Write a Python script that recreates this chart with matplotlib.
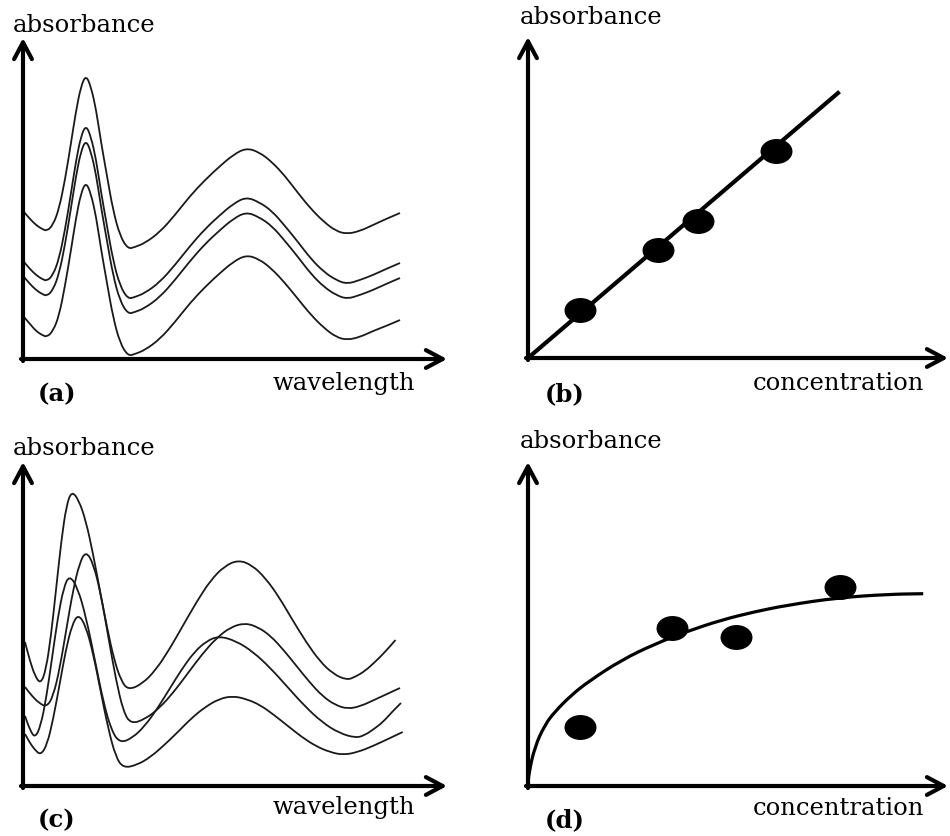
import matplotlib
matplotlib.use("Agg")
import matplotlib.pyplot as plt
import numpy as np
from matplotlib.path import Path
from matplotlib.patches import PathPatch

# ---- data (arbitrary units) ----
# (a) spectra, same wavelength grid for all four curves
wl_a = [1, 7, 13, 19, 24, 30, 36, 42, 48, 53, 58, 63, 68, 73, 78, 84, 90, 97, 105, 112,
        122, 137, 152, 167, 182, 197, 210, 223, 236, 249, 262, 275, 288, 301, 313, 324,
        337, 350, 363, 377]
abs_a1 = [147, 140, 134, 130, 128, 134, 150, 179, 216, 248, 273, 284, 272, 250, 217, 183,
          149, 123, 110, 112, 116, 127, 144, 163, 179, 193, 204, 211, 207, 197, 183, 166,
          150, 137, 128, 125, 128, 134, 140, 146]
abs_a2 = [97, 90, 84, 80, 78, 84, 100, 129, 166, 198, 223, 234, 222, 200, 167, 133, 99, 73,
          60, 62, 66, 77, 94, 113, 130, 144, 155, 162, 157, 148, 133, 117, 100, 87, 79, 75,
          79, 84, 90, 96]
abs_a3 = [82, 75, 69, 65, 63, 69, 85, 114, 151, 183, 208, 219, 207, 185, 152, 118, 84, 58,
          45, 47, 51, 62, 79, 98, 115, 129, 140, 147, 142, 133, 118, 102, 85, 72, 64, 60,
          64, 69, 75, 81]
abs_a4 = [42, 35, 28, 24, 22, 28, 43, 73, 109, 141, 166, 177, 165, 143, 110, 76, 42, 16, 3,
          5, 9, 20, 37, 56, 72, 86, 97, 104, 100, 90, 76, 60, 44, 31, 22, 19, 22, 28, 33, 39]

# (c) spectra with shifting peaks
wl_c1 = [2, 7, 12, 17.7, 22.9, 28, 33.2, 38.4, 43.5, 48.7, 55.8, 62.9, 69.9, 77, 84.1, 91.2,
         98.2, 105.3, 119.1, 132.8, 146.6, 160.3, 174.1, 187.8, 201.6, 215.3, 228.9, 242.4,
         256, 269.5, 283.1, 296.6, 310.2, 323.7, 332, 342, 352, 362, 372.5]
abs_c1 = [144, 125, 110, 102, 116, 150, 198, 246, 281, 295, 286, 265, 233, 195, 158, 126, 105,
          96, 102, 116, 137, 161, 185, 206, 220, 226, 221, 208, 189, 166, 144, 125, 112, 106,
          109, 115, 124, 134, 146]
wl_c2 = [2, 9, 16, 23.7, 30.3, 36.8, 43.4, 49.9, 56.5, 63, 70.5, 78, 85.5, 93, 100.5, 108,
         122.3, 136.5, 150.8, 165, 179.3, 193.5, 207.8, 222, 234.9, 247.8, 260.6, 273.5,
         286.4, 299.3, 312.1, 325, 338, 351, 364, 377]
abs_c2 = [99, 90, 83, 79, 90, 118, 157, 195, 223, 235, 222, 191, 148, 106, 74, 62, 67, 78, 94,
          113, 132, 148, 159, 163, 159, 150, 136, 120, 104, 90, 81, 77, 80, 86, 92, 98]
wl_c3 = [2, 7, 12, 17.7, 23.4, 29.2, 34.9, 40.6, 46.3, 54.8, 63.2, 71.7, 80.1, 88.6, 97, 109.4,
         121.8, 134.1, 146.5, 158.9, 171.3, 183.6, 196, 213.1, 230.3, 247.4, 264.5, 281.6,
         298.8, 315.9, 333, 342, 351, 360, 369, 378]
abs_c3 = [70, 56, 48, 60, 89, 129, 169, 198, 211, 198, 168, 127, 85, 55, 43, 48, 60, 77, 97,
          117, 134, 145, 150, 145, 134, 118, 99, 80, 64, 53, 48, 51, 57, 64, 74, 83]
wl_c4 = [2, 7, 12, 17.7, 24, 30.2, 36.5, 42.8, 49, 55.3, 62.8, 70.3, 77.8, 85.3, 92.8, 100.3,
         114, 127.6, 141.3, 154.9, 168.6, 182.2, 195.9, 209.5, 223.4, 237.2, 251.1, 264.9,
         278.8, 292.6, 306.5, 320.3, 335, 350, 365, 379.7]
abs_c4 = [52, 43, 36, 31, 41, 67, 101, 136, 161, 172, 160, 132, 94, 57, 29, 18, 21, 29, 41,
          54, 68, 79, 87, 90, 87, 81, 71, 60, 49, 40, 34, 31, 34, 40, 47, 54]

# (b) linear calibration
conc_b_line = [0, 310]
abs_b_line = [0, 265]
conc_b = [51.7, 130, 170, 247.7]
abs_b = [48.3, 107.6, 136.6, 206.6]

# (d) non-linear calibration
conc_d_line = [0, 0.8, 6.8, 16.8, 26.8, 43.5, 60.2, 93.5, 126.8, 160.2, 193.5, 226.8,
               260.2, 310.2, 360.2, 395.2]
abs_d_line = [0, 12.7, 39.3, 61, 74.3, 91, 104.3, 126, 142, 155, 166, 174.3, 181, 188.3,
              191.7, 192.3]
conc_d = [51.8, 143.5, 207.5, 311.8]
abs_d = [59.3, 158.3, 149.3, 198.7]

W, H = 950, 836
fig = plt.figure(figsize=(W / 100, H / 100), dpi=100)
SERIF = "DejaVu Serif"


def px_axes(x0, y0, x1, y1):
    # axes box given in picture pixels: origin (x0, y0), arrow tips x1 / y1
    ax = fig.add_axes([x0 / W, 1 - y0 / H, (x1 - x0) / W, (y0 - y1) / H])
    ax.set_xlim(0, x1 - x0)
    ax.set_ylim(0, y0 - y1)
    ax.axis("off")
    arrow = dict(arrowstyle="->,head_length=0.6,head_width=0.32", lw=3, color="k",
                 shrinkA=0, shrinkB=0, mutation_scale=20)
    ax.annotate("", xy=(x1 - x0, 0), xytext=(-2, 0), arrowprops=arrow,
                annotation_clip=False)
    ax.annotate("", xy=(0, y0 - y1), xytext=(0, -2), arrowprops=arrow,
                annotation_clip=False)
    return ax


def smooth_line(ax, x, y, color="#1a1a1a", lw=1.3):
    # draw the polyline with rounded joints (quadratic bezier through segment midpoints)
    pts = np.column_stack([x, y]).astype(float)
    mids = (pts[:-1] + pts[1:]) / 2
    verts = [pts[0], mids[0]]
    codes = [Path.MOVETO, Path.LINETO]
    for i in range(1, len(pts) - 1):
        verts += [pts[i], mids[i]]
        codes += [Path.CURVE3, Path.CURVE3]
    verts.append(pts[-1])
    codes.append(Path.LINETO)
    ax.add_patch(PathPatch(Path(verts, codes), fill=False, ec=color, lw=lw,
                           clip_on=False, capstyle="butt"))


def label(x, y, s, bold=False):
    fig.text(x / W, 1 - y / H, s, fontsize=17.5, family=SERIF, ha="left",
             va="baseline", weight="bold" if bold else "normal")


ellipse = Path(Path.unit_circle().vertices * [1, 0.77], Path.unit_circle().codes)

# (a)
ax = px_axes(23, 359, 447, 38)
for y in (abs_a1, abs_a2, abs_a3, abs_a4):
    smooth_line(ax, wl_a, y)
label(13, 32, "absorbance")
label(273, 390, "wavelength")
label(38, 401, "(a)", bold=True)

# (c)
ax = px_axes(23, 786, 447, 462)
for x, y in ((wl_c1, abs_c1), (wl_c2, abs_c2), (wl_c3, abs_c3), (wl_c4, abs_c4)):
    smooth_line(ax, x, y)
label(13, 455, "absorbance")
label(273, 814, "wavelength")
label(38, 827, "(c)", bold=True)

# (b)
ax = px_axes(528, 358, 948, 37)
ax.plot(conc_b_line, abs_b_line, color="k", lw=3, clip_on=False)
ax.plot(conc_b, abs_b, ls="none", marker=ellipse, ms=22, color="k", clip_on=False)
label(520, 24, "absorbance")
label(753, 390, "concentration")
label(545, 401, "(b)", bold=True)

# (d)
ax = px_axes(528, 786, 948, 462)
smooth_line(ax, conc_d_line, abs_d_line, color="k", lw=2.3)
ax.plot(conc_d, abs_d, ls="none", marker=ellipse, ms=22, color="k", clip_on=False)
label(520, 448, "absorbance")
label(753, 815, "concentration")
label(545, 827, "(d)", bold=True)

fig.savefig("out.png", dpi=100)
